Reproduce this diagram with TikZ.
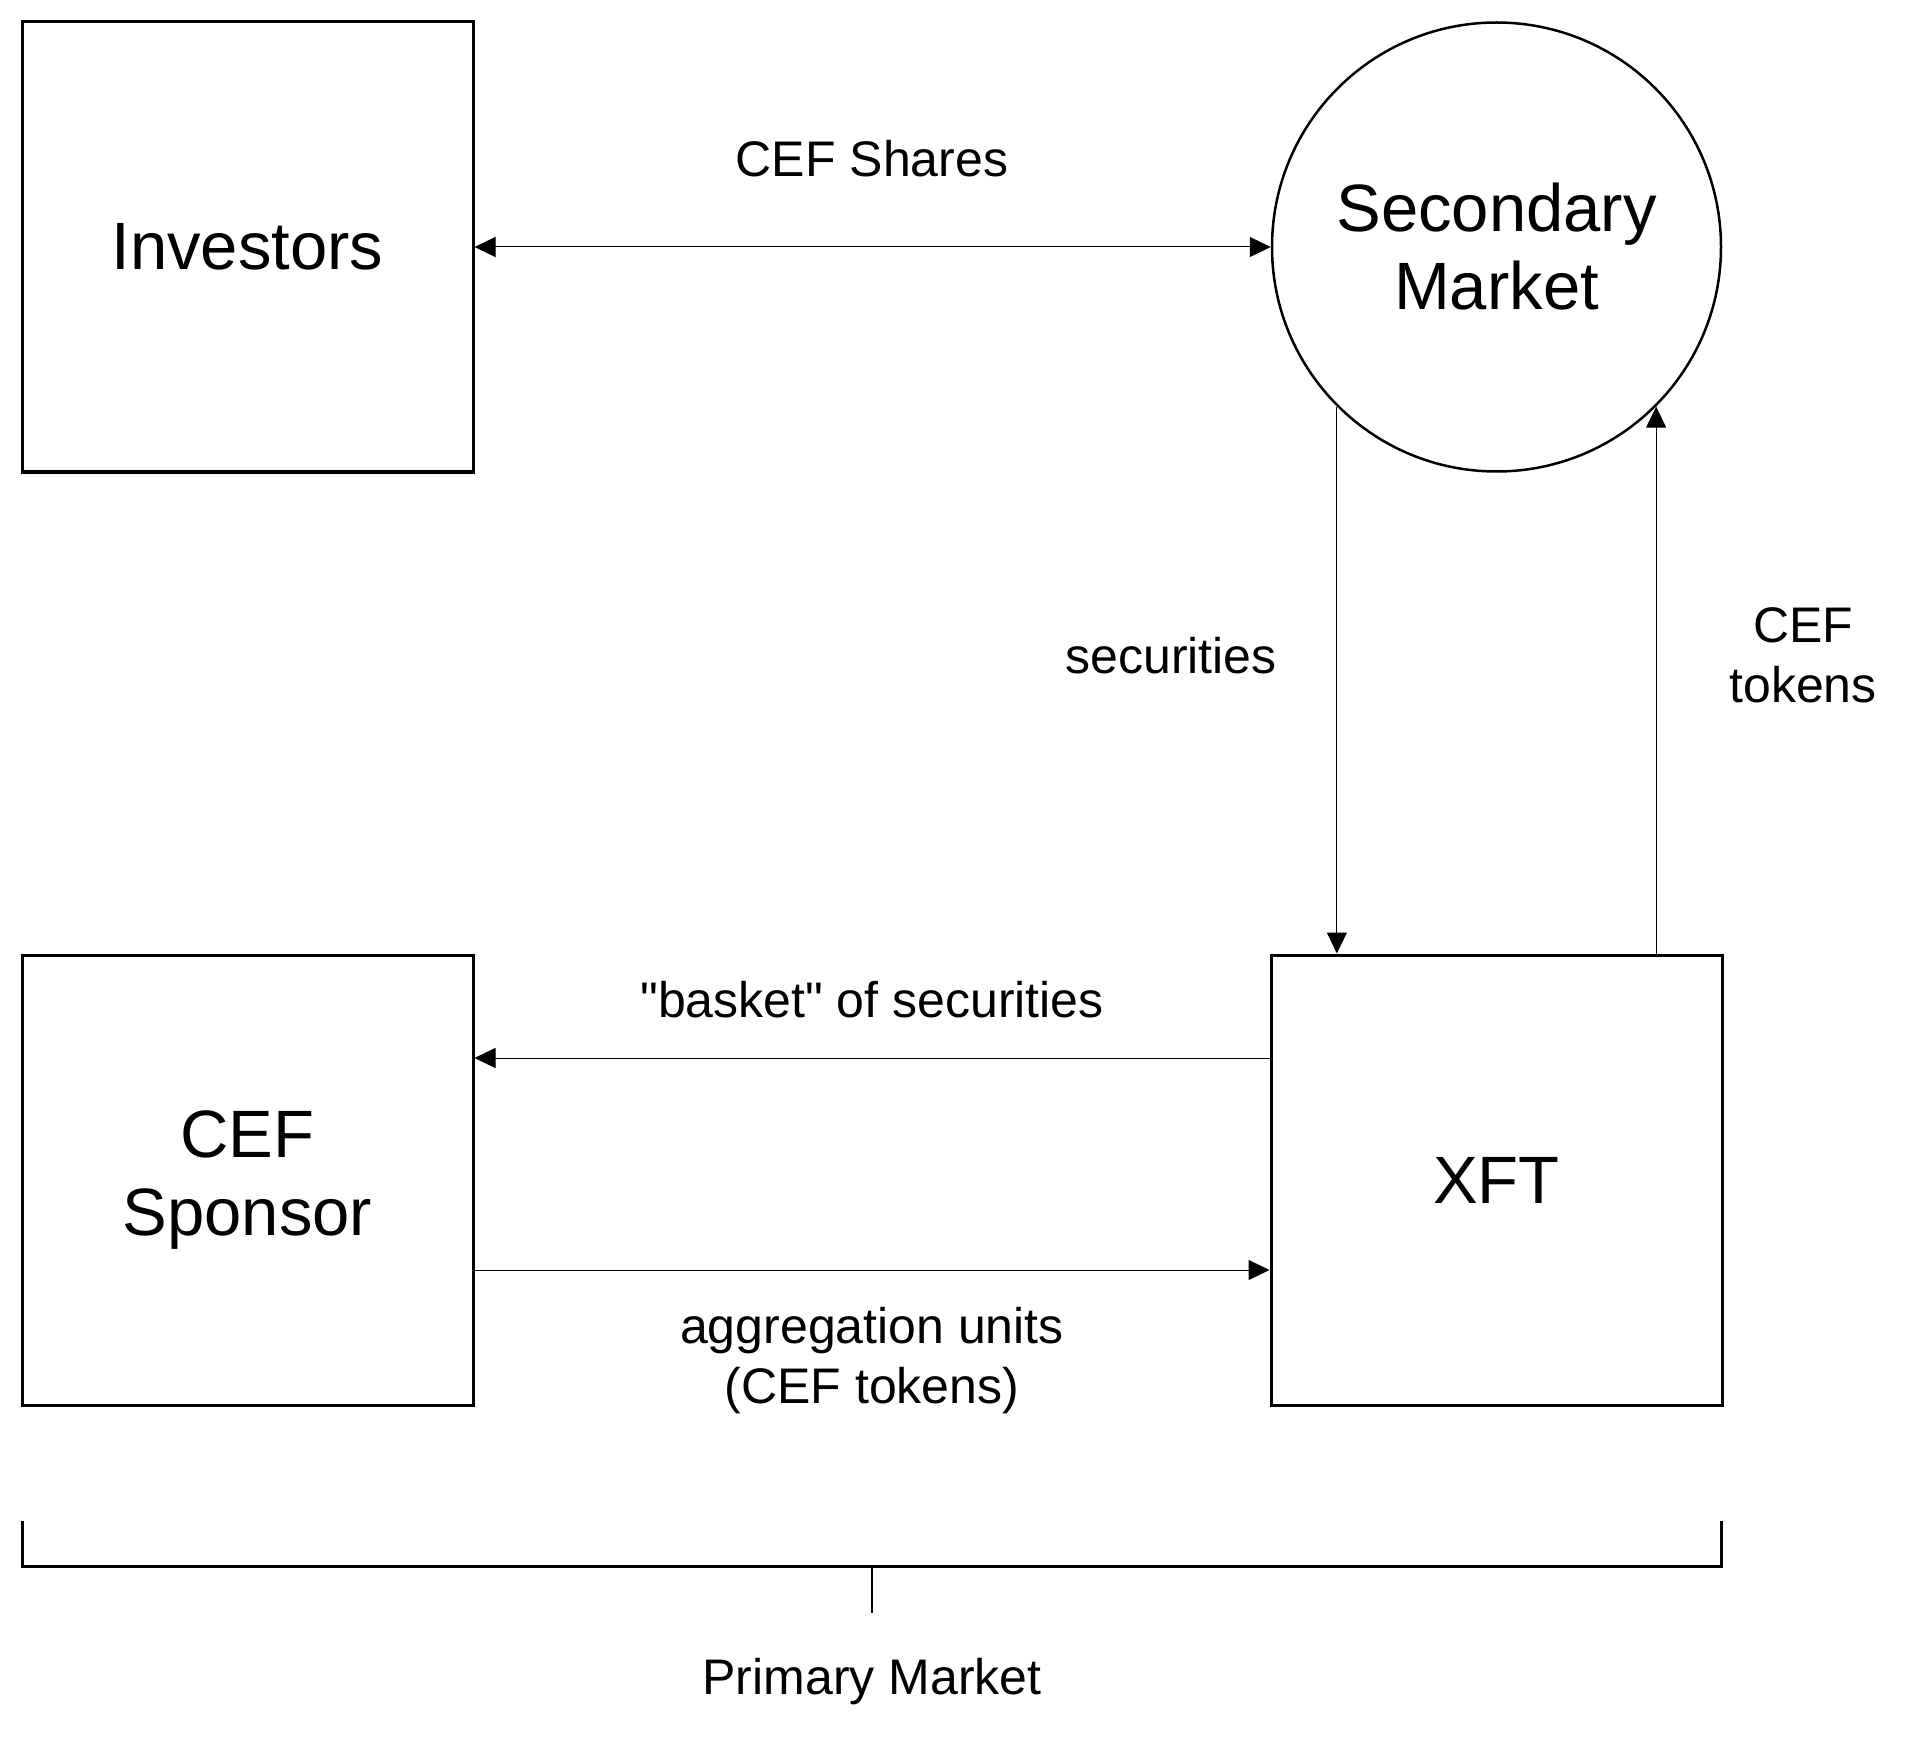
\documentclass[tikz,border=0pt]{standalone}
\usepackage{fontspec}
\setmainfont{Liberation Sans}[Ligatures=TeXOff]
\usetikzlibrary{arrows.meta}
\begin{document}
\begin{tikzpicture}[x=1pt,y=-1pt,
  bigtext/.style={font=\fontsize{67}{78}\selectfont, align=center},
  lbl/.style={font=\fontsize{50}{60}\selectfont, align=center, inner sep=0pt},
  boxnode/.style={draw, line width=3pt, rectangle, minimum width=451pt, minimum height=450pt, bigtext},
  circnode/.style={draw, line width=2.5pt, circle, minimum size=449pt, inner sep=0pt, bigtext},
  conn/.style={line width=1pt, -{Triangle[length=21pt,width=20pt]}},
  conn2/.style={line width=1pt, {Triangle[length=21pt,width=20pt]}-{Triangle[length=21pt,width=20pt]}},
  brk/.style={line width=3pt},
  brkthin/.style={line width=1.5pt}]
\useasboundingbox (0,0) rectangle (1923,1752);
\node[boxnode] (inv) at (247.5,247) {Investors};
\node[circnode] (sec) at (1496.5,247) {Secondary\\Market};
\node[boxnode] (spon) at (247.5,1180) {CEF\\Sponsor};
\node[boxnode] (xft) at (1496.5,1180) {XFT};

\draw[conn2] (inv.east) -- (sec.west);
\node[lbl] (lshares) at (872,159) {CEF Shares};

\draw[conn] (sec.-135) -- (sec.-135 |- xft.north);
\node[lbl] (lsec) at (1171,656) {securities};

\draw[conn] (xft.north -| sec.-45) -- (sec.-45);
\node[lbl] (ltok) at (1803,655) {CEF\\tokens};

\path (xft.north west) ++(0,104.5) coordinate (b1);
\draw[conn] (b1) -- (b1 -| spon.east);
\node[lbl] (lbasket) at (872,1000) {"basket" of securities};

\path (spon.north east) ++(0,316.5) coordinate (a1);
\draw[conn] (a1) -- (a1 -| xft.west);
\node[lbl] (lagg) at (872,1361) {aggregation units\\(CEF tokens)};

\coordinate (bl) at (22,1521);
\coordinate (br) at (1721,1521);
\coordinate (bm) at (872,1566);
\draw[brk] (bl) -- (bl |- bm) -- (br |- bm) -- (br);
\draw[brkthin] (bm) -- ++(0,47) coordinate (bmt);
\node[lbl] (lprim) at (872,1682) {Primary Market};
\end{tikzpicture}
\end{document}
